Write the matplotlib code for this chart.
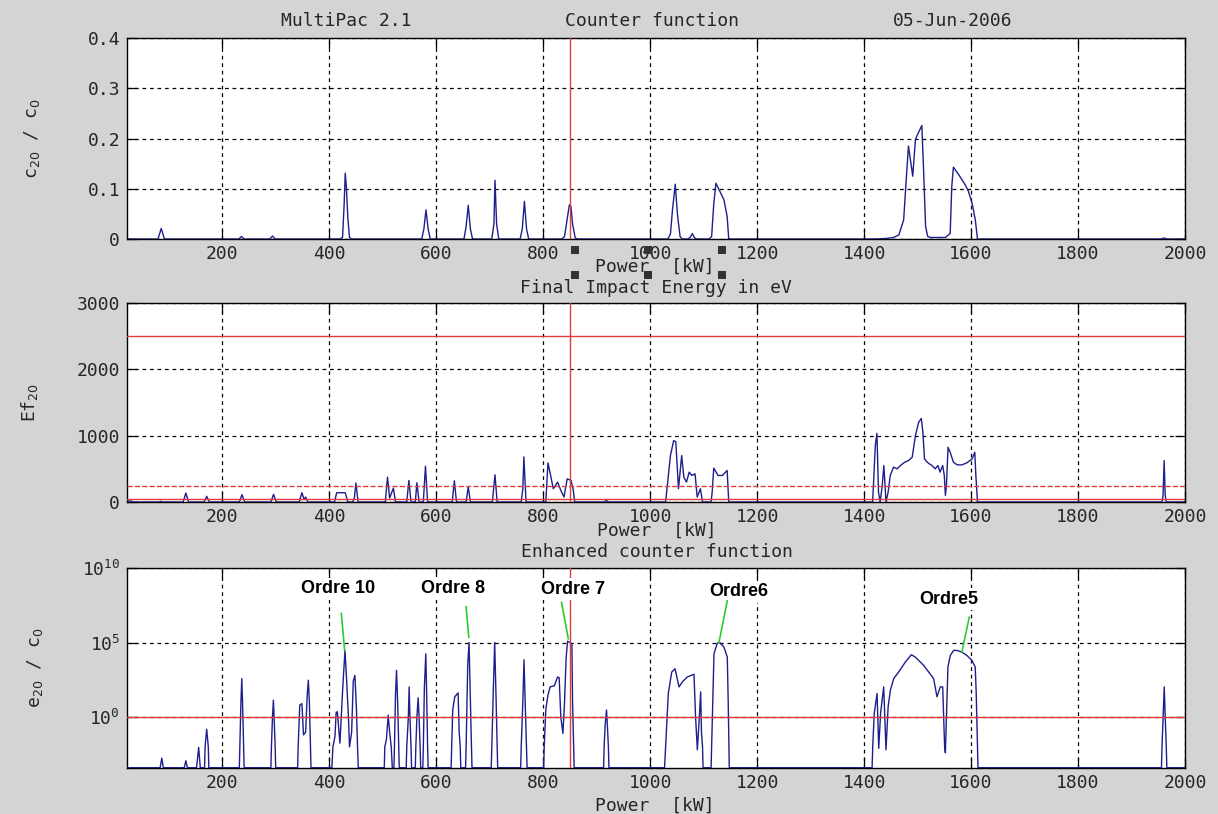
import numpy as np
import matplotlib.pyplot as plt
from matplotlib.ticker import NullLocator

W, H = 1218, 814

# ---- counter function c20/c0 ----
power_c = [22, 80, 86, 92,
           231, 236, 241,
           289, 294, 299,
           420, 425, 428, 430, 432, 435, 438, 442,
           573, 577, 581, 585, 589,
           652, 656, 660, 664, 668,
           704, 708, 710, 713, 717,
           757, 761, 765, 769, 773,
           835, 840, 845, 849, 852, 855, 860, 864,
           1033, 1038, 1042, 1047, 1051, 1056, 1060,
           1070, 1075, 1079, 1083, 1088,
           1110, 1115, 1119, 1123, 1129, 1138, 1144, 1147,
           1420, 1440, 1455, 1465, 1474, 1478, 1483, 1491, 1496, 1500, 1508, 1511, 1515,
           1519, 1524, 1552, 1561, 1564, 1567, 1577, 1589, 1595, 1602, 1608, 1612,
           1955, 1961, 1967, 2000]
c20 = [0, 0, 0.021, 0,
       0, 0.005, 0,
       0, 0.006, 0,
       0, 0.003, 0.07, 0.131, 0.105, 0.04, 0.003, 0,
       0, 0.02, 0.058, 0.02, 0,
       0, 0.025, 0.067, 0.02, 0,
       0, 0.03, 0.117, 0.03, 0,
       0, 0.02, 0.075, 0.02, 0,
       0, 0.005, 0.04, 0.068, 0.065, 0.03, 0.002, 0,
       0, 0.01, 0.06, 0.109, 0.05, 0.005, 0,
       0, 0.003, 0.011, 0.002, 0,
       0, 0.005, 0.07, 0.111, 0.098, 0.078, 0.045, 0,
       0, 0.001, 0.003, 0.008, 0.038, 0.105, 0.185, 0.125, 0.198, 0.208, 0.226, 0.145, 0.025,
       0.005, 0.003, 0.003, 0.011, 0.105, 0.143, 0.128, 0.108, 0.095, 0.071, 0.038, 0,
       0, 0.002, 0, 0]

# ---- final impact energy Ef20 [eV] ----
power_ef = [22, 25, 30, 33,
            82, 85, 88,
            127, 132, 137,
            166, 171, 176,
            232, 237, 242,
            291, 296, 301,
            344, 349, 353, 356, 360,
            410, 414, 430, 435,
            444, 447, 450, 454,
            505, 509, 513, 520, 524,
            545, 549, 553, 561, 564, 568, 576, 580, 584,
            630, 634, 638, 656, 660, 664,
            705, 710, 714,
            759, 762, 764, 768,
            805, 809, 814, 819, 827, 833, 839, 845, 852, 856, 859,
            914, 918, 922,
            1029, 1038, 1044, 1048, 1053, 1059, 1063, 1068, 1073, 1078, 1084, 1088, 1094, 1098,
            1114, 1116, 1119, 1127, 1135, 1144, 1147,
            1416, 1421, 1424, 1427, 1430, 1434, 1437, 1441, 1445, 1449, 1455, 1462, 1468, 1476,
            1483, 1490, 1496, 1502, 1507, 1510, 1513, 1518, 1522, 1527, 1533, 1538, 1542, 1547,
            1550, 1552, 1554, 1557, 1561, 1567, 1574, 1583, 1592, 1602, 1607, 1609, 1612,
            1957, 1959, 1961, 1963, 1965, 2000]
ef20 = [0, 15, 15, 0,
        0, 10, 0,
        0, 135, 0,
        0, 85, 0,
        0, 110, 0,
        0, 115, 0,
        0, 140, 40, 75, 0,
        0, 140, 140, 0,
        0, 60, 285, 0,
        0, 375, 60, 210, 0,
        0, 325, 0, 0, 290, 0, 0, 540, 0,
        0, 320, 0, 0, 230, 0,
        0, 410, 0,
        0, 200, 680, 0,
        0, 590, 400, 200, 300, 175, 75, 350, 325, 200, 0,
        0, 25, 0,
        0, 700, 925, 910, 200, 700, 375, 300, 450, 400, 425, 75, 200, 0,
        0, 150, 510, 400, 400, 475, 0,
        0, 850, 1035, 150, 0, 250, 550, 0, 150, 400, 525, 500, 550, 600,
        625, 675, 1000, 1200, 1260, 1050, 650, 600, 575, 550, 500, 550, 450, 550,
        400, 100, 250, 825, 750, 600, 560, 560, 590, 650, 750, 400, 0,
        0, 100, 625, 100, 0, 0]

# ---- enhanced counter function e20/c0 (log10 values) ----
power_e = [22, 84, 87, 90,
           129, 132, 135,
           152, 156, 159,
           167, 168, 171, 174, 175,
           232, 233, 235, 236.6, 238, 240, 241,
           291, 292, 294, 295.7, 297, 299, 300,
           341, 342, 345, 349, 352, 356, 359, 361, 363, 365, 366,
           405, 407, 410.8, 413, 415.2, 420.1, 425.1, 429.5, 432.6, 436, 438, 442, 445, 448.1,
           451, 453, 454.4,
           503, 504, 507, 510.3, 513, 516, 518,
           521, 522, 524, 525.9, 528, 530, 531,
           544, 545, 548, 549.5, 551, 553, 554,
           561, 562, 564, 566.3, 568, 570, 571,
           575, 576, 578, 580.6, 582, 584, 585,
           628, 629, 631, 634.8, 641, 643, 645, 646,
           655, 656, 659, 661.5, 664, 666, 667,
           703, 704, 707, 709.4, 711.5, 714, 715,
           758, 759, 762, 764.2, 766, 769, 770,
           801, 802, 805, 809, 813, 821, 827, 830, 833, 837, 840, 843, 845.7, 850, 853.7,
           855, 857, 858,
           913, 914, 916, 918.5, 920, 922, 923,
           1027, 1029, 1034, 1040.4, 1046.6, 1054, 1060.3, 1069.6, 1082, 1085, 1088.3, 1092,
           1094.5, 1096, 1098, 1099,
           1114, 1115, 1117, 1119.4, 1125.6, 1130, 1138, 1144.3, 1146, 1147.4, 1148,
           1415, 1416.2, 1419, 1424.3, 1427.4, 1431, 1436.7, 1441, 1445, 1449.2, 1455.4,
           1464.7, 1471, 1477.2, 1488.4, 1495.8, 1505.2, 1511.4, 1520.7, 1530, 1536.3,
           1542.5, 1547, 1550.6, 1552, 1556.8, 1561.2, 1567.4, 1573.6, 1582.9, 1592.3,
           1601.6, 1607.8, 1609.6, 1612.2, 1613,
           1956, 1957, 1959, 1961.2, 1963, 1965, 1966, 2000]
e20_log = [-3.4, -3.4, -2.76, -3.4,
           -3.4, -2.93, -3.4,
           -3.4, -2.04, -3.4,
           -3.4, -2, -0.82, -2, -3.4,
           -3.4, -2, 1.0, 2.58, 1.0, -2, -3.4,
           -3.4, -2, 0, 1.13, 0, -2, -3.4,
           -3.4, -2, 0.8, 0.9, -1.2, -1, 1.5, 2.47, 1, -2, -3.4,
           -3.4, -2, -1.3, 0.3, 0.36, -1.75, 1.8, 4.47, 2.47, 0, -2, -1, 2.4, 2.8,
           0.5, -2, -3.4,
           -3.4, -2, -1.5, 0.13, -1, -2, -3.4,
           -3.4, -2, 1.5, 3.13, 1, -2, -3.4,
           -3.4, -2, 0, 2.02, 0, -2, -3.4,
           -3.4, -2, 0, 1.29, 0, -2, -3.4,
           -3.4, -2, 2, 4.24, 2, -2, -3.4,
           -3.4, -2, 0.5, 1.36, 1.62, -1, -2, -3.4,
           -3.4, -2, 3.5, 5.0, 1, -2, -3.4,
           -3.4, -2, 2, 5.0, 2, -2, -3.4,
           -3.4, -2, 1, 3.84, 1.5, -2, -3.4,
           -3.4, -2, 0.5, 1.47, 2.02, 2.1, 2.69, 2.64, 0, -1.1, 1, 4.0, 5.09, 5.0, 4.91,
           1, -2, -3.4,
           -3.4, -2, -0.5, 0.47, -0.5, -2, -3.4,
           -3.4, -2, 1.58, 3.02, 3.24, 2.02, 2.36, 2.69, 2.87, 0, -2.2, 0,
           1.69, -1, -2, -3.4,
           -3.4, -2, 1, 4.24, 4.96, 5.0, 4.69, 4.02, 1, -2, -3.4,
           -3.4, -2, 0.24, 1.58, -2.1, 0.3, 2.02, -2.2, 0.7, 1.8, 2.58,
           3.02, 3.36, 3.69, 4.18, 4.02, 3.69, 3.47, 3.02, 2.58, 1.36,
           2.02, 2.02, -2, -2.4, 3.36, 4.13, 4.47, 4.47, 4.36, 4.13,
           3.8, 3.36, 1.69, -2, -3.4,
           -3.4, -2, 0, 2.02, 0, -2, -3.4, -3.4]

# reference lines
power_marker = 850
energy_levels = [2500, 235, 40]
energy_styles = ['-', '--', '-']

# order annotations
order_labels = ["Ordre 10", "Ordre 8", "Ordre 7", "Ordre6", "Ordre5"]
order_text_x = [416, 631, 855, 1166, 1559]
order_text_log = [8.6, 8.62, 8.58, 8.4, 7.91]
pointer_x0 = [422.7, 656, 834.4, 1144.3, 1596.6]
pointer_log0 = [6.95, 7.4, 7.69, 7.8, 6.69]
pointer_x1 = [428.9, 660.9, 847, 1128.8, 1582.8]
pointer_log1 = [4.47, 5.35, 5.25, 5.02, 4.35]

xticks = [200, 400, 600, 800, 1000, 1200, 1400, 1600, 1800, 2000]

BG = '#d4d4d4'
BLUE = '#1e1e8c'
RED = '#e03c3c'
GREEN = '#2ecc2e'
TXT = '#262626'
FS = 13
MONO = 'DejaVu Sans Mono'

plt.rcParams['font.family'] = [MONO, 'DejaVu Sans']


def rect(left, top, right, bottom):
    return [left / W, 1 - bottom / H, (right - left) / W, (bottom - top) / H]


def style(ax):
    ax.set_facecolor('white')
    ax.set_xlim(22, 2000)
    ax.set_xticks(xticks)
    ax.grid(True, which='major', color='black', linestyle=(0, (3, 3)), linewidth=0.9)
    ax.tick_params(direction='in', length=7, width=0.9, top=True, right=True,
                   labelsize=FS, labelcolor=TXT)
    ax.tick_params(axis='x', pad=4)
    ax.tick_params(axis='y', pad=5)
    for s in ax.spines.values():
        s.set_linewidth(1.0)
        s.set_color('black')


def ftext(px, py, s, **kw):
    fig.text(px / W, 1 - py / H, s, ha='center', va='center', color=TXT, fontsize=FS, **kw)


fig = plt.figure(figsize=(W / 100, H / 100), dpi=100, facecolor=BG)

# top panel
ax1 = fig.add_axes(rect(127, 38, 1185, 239))
style(ax1)
ax1.plot(power_c, c20, color=BLUE, lw=1.0, zorder=3)
ax1.axvline(power_marker, color=RED, lw=1.0, zorder=4)
ax1.set_ylim(0, 0.4)
ax1.set_yticks([0, 0.1, 0.2, 0.3, 0.4])
ax1.set_yticklabels(['0', '0.1', '0.2', '0.3', '0.4'])
ax1.set_ylabel(r'c$_{20}$ / c$_0$', fontsize=FS, color=TXT)
ax1.yaxis.set_label_coords(-(127 - 42) / 1058, 0.5)

# middle panel
ax2 = fig.add_axes(rect(127, 303, 1185, 502))
style(ax2)
ax2.plot(power_ef, ef20, color=BLUE, lw=1.0, zorder=3)
for lvl, ls in zip(energy_levels, energy_styles):
    ax2.axhline(lvl, color=RED, lw=1.0, linestyle=ls, zorder=4)
ax2.axvline(power_marker, color=RED, lw=1.0, zorder=4)
ax2.set_ylim(0, 3000)
ax2.set_yticks([0, 1000, 2000, 3000])
ax2.set_ylabel(r'Ef$_{20}$', fontsize=FS, color=TXT)
ax2.yaxis.set_label_coords(-(127 - 40) / 1058, 0.5)

# bottom panel
ax3 = fig.add_axes(rect(127, 568, 1185, 768))
style(ax3)
ax3.set_yscale('log')
ax3.plot(power_e, np.power(10.0, e20_log), color=BLUE, lw=1.0, zorder=3)
ax3.axhline(1.0, color=RED, lw=1.0, zorder=4)
ax3.axvline(power_marker, color=RED, lw=1.0, zorder=4)
ax3.set_ylim(10 ** -3.42, 1e10)
ax3.set_yticks([1, 1e5, 1e10])
ax3.set_yticklabels([r'$\mathregular{10^{0}}$', r'$\mathregular{10^{5}}$',
                     r'$\mathregular{10^{10}}$'])
ax3.yaxis.set_minor_locator(NullLocator())
ax3.set_xlim(22, 2000)
ax3.set_ylabel(r'e$_{20}$ / c$_0$', fontsize=FS, color=TXT)
ax3.yaxis.set_label_coords(-(127 - 45) / 1058, 0.5)

for lab, tx, ty, x0, y0, x1, y1 in zip(order_labels, order_text_x, order_text_log,
                                        pointer_x0, pointer_log0, pointer_x1, pointer_log1):
    ax3.text(tx, 10 ** ty, lab, ha='center', va='center', fontsize=13, fontweight='bold',
             family='Liberation Sans', color='black', zorder=6,
             bbox=dict(facecolor='white', edgecolor='none', pad=2))
    ax3.plot([x0, x1], [10 ** y0, 10 ** y1], color=GREEN, lw=1.2, zorder=7)

# titles and axis labels (MATLAB style placement)
ftext(346, 21, 'MultiPac 2.1')
ftext(652, 21, 'Counter function')
ftext(953, 21, '05-Jun-2006')
ftext(655, 267, 'Power  [kW]')
ftext(656, 288, 'Final Impact Energy in eV')
ftext(657, 531, 'Power  [kW]')
ftext(657, 552, 'Enhanced counter function')
ftext(655, 806, 'Power  [kW]')

# selection handles around the first xlabel
handle_px = [575, 648, 722]
handle_py = [250, 275]
for hx in handle_px:
    for hy in handle_py:
        fig.patches.append(plt.Rectangle(((hx - 4) / W, 1 - (hy + 4) / H), 8 / W, 8 / H,
                                         transform=fig.transFigure, facecolor='#333333',
                                         edgecolor='none', figure=fig))

fig.savefig('out.png', dpi=100, facecolor=BG)
